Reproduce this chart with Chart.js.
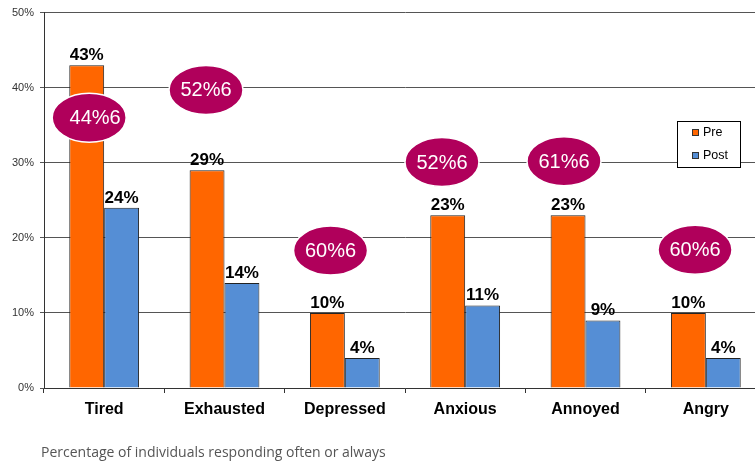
<!DOCTYPE html>
<html>
<head>
<meta charset="utf-8">
<script src="https://cdn.jsdelivr.net/npm/chart.js@4/dist/chart.umd.min.js"></script>
<style>
  body { margin: 0; background: #fff; }
  .wrap { position: relative; width: 755px; height: 464px; overflow: hidden; }
  #chart { position: absolute; left: 0; top: 0; }
  .note { position: absolute; left: 41px; top: 442px; font: 14px "Open Sans", sans-serif; color: #555; white-space: nowrap; }
</style>
</head>
<body>
<div class="wrap">
  <canvas id="chart" width="770" height="464"></canvas>
  <div class="note">Percentage of individuals responding often or always</div>
</div>
<script>
// Survey data (percent of respondents)
const categories = ["Tired", "Exhausted", "Depressed", "Anxious", "Annoyed", "Angry"];
const preValues = [43, 29, 10, 23, 23, 10];
const postValues = [24, 14, 4, 11, 9, 4];
const yTicks = [0, 10, 20, 30, 40, 50];
const bubbleLabels = ["44%6", "52%6", "60%6", "52%6", "61%6", "60%6"];

const ORANGE = "#FF6600";
const BLUE = "#558ED5";

// Value labels above each bar
const barLabels = {
  id: "barLabels",
  afterDatasetsDraw(chart) {
    const ctx = chart.ctx;
    ctx.save();
    ctx.font = "bold 17px 'Liberation Sans', Arial, sans-serif";
    ctx.fillStyle = "#000";
    ctx.textAlign = "center";
    ctx.textBaseline = "alphabetic";
    chart.data.datasets.forEach((ds, di) => {
      chart.getDatasetMeta(di).data.forEach((bar, i) => {
        ctx.fillText(ds.data[i] + "%", bar.x, bar.y - 5);
      });
    });
    ctx.restore();
  }
};

// Magenta callout bubbles, one per category
const bubbles = {
  id: "bubbles",
  afterDraw(chart, args, opts) {
    const ctx = chart.ctx;
    const xs = chart.scales.x, ys = chart.scales.y;
    ctx.save();
    opts.spots.forEach((s, i) => {
      const cx = xs.getPixelForValue(i) + s.dx;
      const cy = ys.getPixelForValue(s.y);
      ctx.beginPath();
      ctx.ellipse(cx, cy, 37, 24.5, 0, 0, Math.PI * 2);
      ctx.fillStyle = "#B0005B";
      ctx.fill();
      ctx.lineWidth = 1.5;
      ctx.strokeStyle = "#fff";
      ctx.stroke();
      ctx.font = "20px 'Liberation Sans', Arial, sans-serif";
      ctx.fillStyle = "#fff";
      ctx.textAlign = "center";
      ctx.textBaseline = "middle";
      ctx.fillText(bubbleLabels[i], cx + (s.tx || 0), cy + 1);
    });
    ctx.restore();
  }
};

// Boxed legend sitting inside the plot area
const boxLegend = {
  id: "boxLegend",
  afterDraw(chart) {
    const ctx = chart.ctx;
    const x = 677, y = 121, w = 63, h = 46;
    ctx.save();
    ctx.fillStyle = "#fff";
    ctx.fillRect(x, y, w, h);
    ctx.strokeStyle = "#000";
    ctx.lineWidth = 1;
    ctx.strokeRect(x + 0.5, y + 0.5, w, h);
    ctx.font = "12.5px 'Liberation Sans', Arial, sans-serif";
    ctx.textBaseline = "middle";
    chart.data.datasets.forEach((ds, i) => {
      const cy = y + 12 + i * 23;
      ctx.fillStyle = ds.backgroundColor;
      ctx.fillRect(x + 15, cy - 4, 7, 7);
      ctx.strokeStyle = "#333";
      ctx.strokeRect(x + 15.5, cy - 3.5, 6, 6);
      ctx.fillStyle = "#000";
      ctx.fillText(ds.label, x + 26, cy);
    });
    ctx.restore();
  }
};

new Chart(document.getElementById("chart"), {
  type: "bar",
  data: {
    labels: categories,
    datasets: [
      { label: "Pre", data: preValues, backgroundColor: ORANGE, borderColor: "#222", borderWidth: 1 },
      { label: "Post", data: postValues, backgroundColor: BLUE, borderColor: "#222", borderWidth: 1 }
    ]
  },
  options: {
    responsive: false,
    animation: false,
    layout: { padding: { top: 12, right: 4, left: 0, bottom: 0 } },
    datasets: { bar: { categoryPercentage: 0.58, barPercentage: 1.0 } },
    plugins: {
      legend: { display: false },
      tooltip: { enabled: false },
      bubbles: {
        spots: [
          { dx: -15, y: 36.0, tx: 6 },
          { dx: -18.5, y: 39.7 },
          { dx: -14.3, y: 18.3 },
          { dx: -23.2, y: 30.1 },
          { dx: -21.5, y: 30.2 },
          { dx: -10.8, y: 18.4 }
        ]
      }
    },
    scales: {
      x: {
        grid: { display: true, drawOnChartArea: false, offset: true, tickLength: 5, color: "#333" },
        border: { color: "#333" },
        ticks: {
          font: { family: "'Liberation Sans', Arial, sans-serif", size: 16, weight: "bold" },
          color: "#000",
          padding: 7
        },
        afterFit: (s) => { s.height = 76; }
      },
      y: {
        min: 0,
        max: 50,
        afterBuildTicks: (s) => { s.ticks = yTicks.map((v) => ({ value: v })); },
        grid: { color: "#555", tickLength: 4 },
        border: { color: "#333" },
        ticks: {
          callback: (v) => v + "%",
          font: { family: "'Liberation Sans', Arial, sans-serif", size: 11 },
          color: "#333",
          padding: 6
        },
        afterFit: (s) => { s.width = 44; }
      }
    }
  },
  plugins: [barLabels, bubbles, boxLegend]
});
</script>
</body>
</html>
